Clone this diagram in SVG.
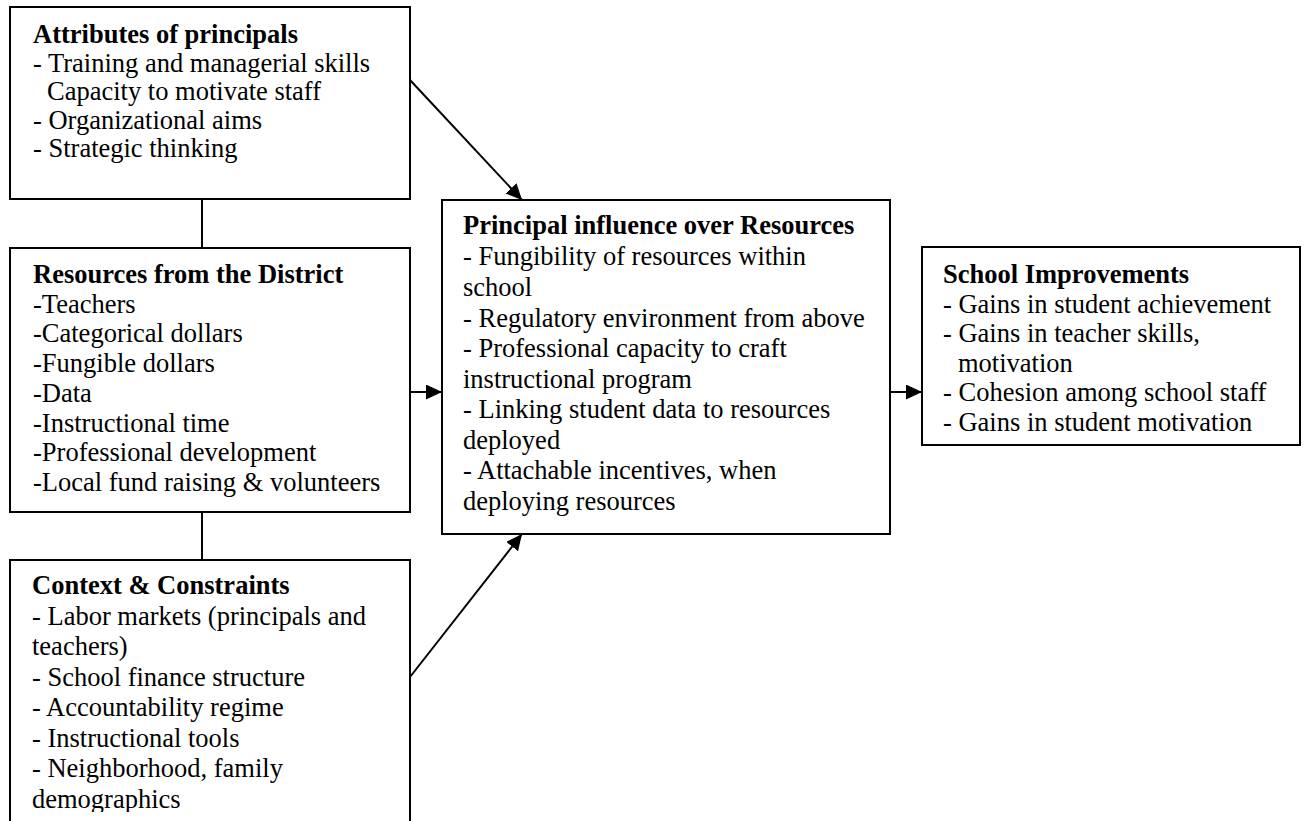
<svg xmlns="http://www.w3.org/2000/svg" width="1308" height="821" viewBox="0 0 1308 821">
<style>
  .box{fill:#fff;stroke:#000;stroke-width:2}
  .ln{stroke:#000;stroke-width:2;fill:none}
  text{font-family:"Liberation Serif","Times New Roman",serif;font-size:26.5px;fill:#000}
  .b{font-weight:bold}
</style>
<defs>
  <marker id="ah" markerUnits="userSpaceOnUse" markerWidth="18" markerHeight="16" refX="16" refY="7.5" orient="auto">
    <path d="M0,0 L16,7.5 L0,15 z" fill="#000"/>
  </marker>
  <clipPath id="c2"><rect x="10" y="248" width="400" height="249"/></clipPath>
  <clipPath id="c3"><rect x="10" y="560" width="400" height="252"/></clipPath>
</defs>
<rect width="1308" height="821" fill="#fff"/>
<g id="connectors">
  <line class="ln" x1="202" y1="199" x2="202" y2="248"/>
  <line class="ln" x1="202" y1="512" x2="202" y2="560"/>
  <line class="ln" x1="410" y1="80" x2="522" y2="200" marker-end="url(#ah)"/>
  <line class="ln" x1="410" y1="392" x2="442" y2="392" marker-end="url(#ah)"/>
  <line class="ln" x1="410" y1="677" x2="522" y2="534" marker-end="url(#ah)"/>
  <line class="ln" x1="890" y1="392" x2="922" y2="392" marker-end="url(#ah)"/>
</g>
<g id="attributes">
  <rect class="box" x="10" y="7" width="400" height="192"/>
  <text x="33" y="43" class="b">Attributes of principals</text>
  <text x="33" y="71.5">- Training and managerial skills</text>
  <text x="47" y="100">Capacity to motivate staff</text>
  <text x="33" y="128.5">- Organizational aims</text>
  <text x="33" y="157">- Strategic thinking</text>
</g>
<g id="resources">
  <rect class="box" x="10" y="248" width="400" height="264"/>
  <g clip-path="url(#c2)">
    <text x="33" y="283" class="b">Resources from the District</text>
    <text x="33" y="312.7">-Teachers</text>
    <text x="33" y="342.4">-Categorical dollars</text>
    <text x="33" y="372.1">-Fungible dollars</text>
    <text x="33" y="401.8">-Data</text>
    <text x="33" y="431.5">-Instructional time</text>
    <text x="33" y="461.2">-Professional development</text>
    <text x="33" y="490.9">-Local fund raising &amp; volunteers</text>
  </g>
</g>
<g id="context">
  <path class="ln" d="M10,823 V560 H410 V823"/>
  <g clip-path="url(#c3)">
    <text x="32" y="594" class="b">Context &amp; Constraints</text>
    <text x="32" y="624.5">- Labor markets (principals and</text>
    <text x="32" y="655">teachers)</text>
    <text x="32" y="685.5">- School finance structure</text>
    <text x="32" y="716">- Accountability regime</text>
    <text x="32" y="746.5">- Instructional tools</text>
    <text x="32" y="777">- Neighborhood, family</text>
    <text x="32" y="807.5">demographics</text>
  </g>
</g>
<g id="influence">
  <rect class="box" x="442" y="200" width="448" height="334"/>
  <text x="463" y="234" class="b">Principal influence over Resources</text>
  <text x="463" y="265">- Fungibility of resources within</text>
  <text x="463" y="295.5">school</text>
  <text x="463" y="326.5">- Regulatory environment from above</text>
  <text x="463" y="357">- Professional capacity to craft</text>
  <text x="463" y="387.5">instructional program</text>
  <text x="463" y="418">- Linking student data to resources</text>
  <text x="463" y="448.5">deployed</text>
  <text x="463" y="479">- Attachable incentives, when</text>
  <text x="463" y="510">deploying resources</text>
</g>
<g id="improvements">
  <rect class="box" x="922" y="247" width="378" height="198"/>
  <text x="943" y="283" class="b">School Improvements</text>
  <text x="943" y="312.5">- Gains in student achievement</text>
  <text x="943" y="342">- Gains in teacher skills,</text>
  <text x="958" y="371.5">motivation</text>
  <text x="943" y="401">- Cohesion among school staff</text>
  <text x="943" y="430.5">- Gains in student motivation</text>
</g>
</svg>
